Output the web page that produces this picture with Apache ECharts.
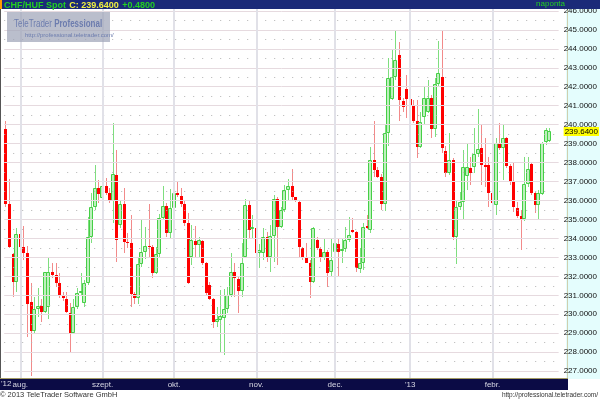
<!DOCTYPE html>
<html><head><meta charset="utf-8">
<script src="https://cdn.jsdelivr.net/npm/echarts@6/dist/echarts.min.js"></script>
<style>html,body{margin:0;padding:0;background:#fff}#c{width:600px;height:400px}</style>
</head><body><div id="c"></div>
<script>
// ---- data (daily OHLC, CHF/HUF spot) ----
const opens = [239.76,235.80,233.18,231.72,234.22,233.57,233.22,230.63,229.14,230.26,230.44,230.14,230.40,232.21,232.07,231.67,230.97,230.81,230.09,229.00,
230.40,231.14,230.58,231.63,234.10,235.68,236.64,236.12,236.78,236.42,235.99,237.35,234.71,235.82,233.83,233.74,231.07,230.84,232.64,233.30,
233.62,233.57,232.20,233.18,235.06,235.73,234.27,235.59,236.42,236.24,235.82,234.80,233.00,233.88,233.66,233.88,232.69,231.55,230.79,229.61,
229.70,229.79,230.26,231.02,232.25,231.86,231.25,233.04,235.77,234.53,234.53,233.22,233.22,234.10,233.04,234.13,236.06,234.62,235.50,236.56,
236.77,236.17,235.94,233.48,233.00,232.69,231.72,233.92,233.43,232.95,233.30,232.25,233.30,233.71,233.39,233.43,233.92,234.45,234.36,232.37,
232.69,234.66,234.45,238.14,237.61,237.26,235.82,239.55,241.34,242.53,243.68,241.27,241.87,241.34,241.04,240.20,238.84,240.42,240.69,241.39,
239.76,242.15,242.53,238.63,237.44,238.14,234.10,235.68,235.94,237.30,237.70,237.79,238.46,238.75,237.88,237.88,236.42,235.77,239.02,238.75,
239.28,237.82,237.00,235.59,235.19,235.01,236.87,237.93,236.38,235.77,236.35,239.10,239.16];
const closes = [235.82,233.57,231.72,234.22,233.57,233.22,230.53,229.14,230.26,230.44,230.14,232.21,232.25,232.07,231.67,230.97,230.84,230.14,229.00,230.40,
231.14,231.23,231.63,234.10,235.68,236.64,236.35,236.77,236.42,235.99,237.40,233.92,235.82,233.83,233.74,231.07,230.84,232.64,233.30,233.62,
233.57,232.20,233.18,235.06,235.73,234.27,235.59,236.42,236.29,235.82,234.83,231.67,233.92,233.66,233.92,232.69,231.14,230.79,229.61,229.74,
229.90,230.26,231.02,232.25,231.90,231.25,232.72,235.77,234.45,234.62,233.25,233.39,234.10,233.04,234.13,236.06,234.62,235.50,236.56,236.77,
236.20,235.99,233.53,233.04,232.72,231.72,234.53,233.48,232.95,233.30,232.16,232.86,233.74,233.30,233.43,233.92,234.18,234.36,232.42,232.69,
234.62,234.57,238.14,237.61,237.26,235.82,239.55,242.45,242.53,243.41,241.30,240.92,241.34,241.04,240.20,238.84,240.16,241.39,241.39,239.76,
242.15,242.71,238.75,237.44,238.14,234.06,235.68,235.94,237.75,237.75,237.44,238.46,238.70,237.88,237.79,236.42,235.89,239.02,238.75,239.28,
237.82,236.99,235.68,235.19,235.01,236.87,237.65,236.42,235.77,236.38,239.05,239.70,239.64];
const lows = [235.68,233.48,230.90,231.19,232.90,232.86,228.79,226.75,228.96,229.88,229.61,230.05,229.74,231.90,231.46,230.84,230.70,230.05,227.94,228.96,
230.30,231.02,230.40,231.55,233.74,235.50,235.85,235.85,236.29,235.85,234.80,232.78,234.57,233.22,233.50,230.40,230.54,230.54,232.51,232.90,
232.95,231.90,232.15,233.04,234.97,234.10,234.01,235.33,236.20,235.68,234.66,231.60,232.60,233.04,233.04,232.60,231.02,230.75,229.30,229.35,
227.94,227.85,230.05,230.93,230.93,230.05,230.93,232.95,233.95,234.01,233.18,232.42,232.86,232.78,232.25,232.78,232.60,234.57,235.41,236.03,
236.03,235.94,233.04,232.86,232.69,230.84,231.63,233.39,232.78,232.86,231.46,232.00,232.69,231.99,232.69,233.30,233.83,234.27,232.25,232.16,
232.34,234.48,234.27,237.26,237.17,235.50,235.47,238.88,241.30,242.36,240.21,240.69,240.34,240.95,240.07,238.23,238.75,239.98,240.64,239.28,
239.37,242.01,238.49,237.26,237.35,233.92,232.65,235.50,235.01,236.56,236.82,237.44,238.31,236.82,236.73,235.68,235.77,235.24,238.67,237.08,
237.70,236.82,235.41,235.06,233.39,234.94,236.73,236.29,235.36,234.97,236.29,238.93,239.11];
const highs = [240.21,237.15,233.25,234.57,234.71,234.66,233.62,231.63,230.93,231.41,230.79,232.25,233.04,232.69,232.69,232.16,231.20,231.19,230.58,230.79,
231.37,232.16,231.81,235.15,236.38,237.88,237.08,237.52,237.17,236.64,240.11,238.67,236.03,236.64,234.30,235.24,231.20,232.95,234.97,234.62,
235.82,233.66,233.57,235.27,236.77,235.85,236.59,236.56,237.00,236.64,236.03,235.33,234.71,234.66,234.10,233.92,232.78,231.72,230.84,230.37,
231.28,231.32,231.46,233.22,232.69,231.99,233.74,236.06,236.03,235.24,234.62,233.71,234.53,234.36,234.71,236.29,236.17,235.68,236.82,237.12,
237.65,236.20,236.03,233.57,233.74,232.86,234.62,234.10,233.57,233.95,233.39,233.95,233.83,234.01,233.95,234.62,235.15,235.06,234.39,233.48,
234.80,235.24,238.84,240.21,237.79,237.40,239.98,243.50,243.98,244.96,244.38,241.39,242.62,243.10,241.30,241.30,240.69,241.97,242.36,241.57,
242.45,244.43,244.96,238.88,239.55,238.23,236.03,236.47,238.67,239.02,238.31,239.81,240.81,239.98,239.28,238.31,236.77,239.28,240.07,239.98,
239.37,237.93,237.96,235.94,235.50,238.31,238.31,238.05,236.47,236.56,239.11,239.81,239.81];

// tick labels
const yTicks = [227,228,229,230,231,232,233,234,235,236,237,238,239,240,241,242,243,244,245,246];
const monthLabels = {'2012-08':'aug.','2012-09':'szept.','2012-10':'okt.','2012-11':'nov.','2012-12':'dec.','2013-01':"'13",'2013-02':'febr.'};
const yearLabel = "'12";
const lastClose = 239.64;
const change = '+0.4800';
const title = 'CHF/HUF Spot';
const periodLabel = 'naponta';

// trading-day categories (weekdays from 26 Jul 2012, two empty slots at the right edge)
const categories = [];
(function(){ let t = Date.UTC(2012,6,26); while (categories.length < opens.length + 2) { const d = new Date(t); const wd = d.getUTCDay(); if (wd !== 0 && wd !== 6) categories.push(d.toISOString().slice(0,10)); t += 86400000; } })();
const monthStartIdx = [];
categories.forEach((c, i) => { if (i > 0 && c.slice(0,7) !== categories[i-1].slice(0,7) && monthLabels[c.slice(0,7)]) monthStartIdx.push(i); });
const isMonthStart = i => monthStartIdx.indexOf(i) >= 0;

const candleData = opens.map((o, i) => [i, o, closes[i], lows[i], highs[i]]);

const chart = echarts.init(document.getElementById('c'), null, {renderer: 'canvas'});
const FONT = 'Liberation Sans, Arial, sans-serif';

const gridMarks = [];
yTicks.forEach(v => gridMarks.push({yAxis: v, lineStyle: {color: '#e6dadf', width: 1, type: 'solid'}}));
yTicks.forEach(v => gridMarks.push({yAxis: v + 0.5, lineStyle: {color: '#b4b4b4', width: 1, type: [1, 8]}}));
monthStartIdx.forEach(i => gridMarks.push({xAxis: categories[i], lineStyle: {color: '#e1e1e8', width: 2, type: 'solid'}}));

chart.setOption({
  animation: false,
  backgroundColor: '#ffffff',
  grid: {left: 4.2, right: 34, top: 9, bottom: 22},
  xAxis: {
    type: 'category', data: categories, boundaryGap: true,
    axisLine: {show: false}, axisTick: {show: false}, splitLine: {show: false},
    axisLabel: {
      interval: (i) => isMonthStart(i),
      formatter: (v) => monthLabels[v.slice(0,7)] || '',
      color: '#d8d8e4', fontSize: 8, fontFamily: FONT, margin: 3
    }
  },
  yAxis: {
    type: 'value', position: 'right', min: 226.64, max: 246.1, scale: true,
    axisLine: {show: false}, axisTick: {show: false, customValues: yTicks}, splitLine: {show: false},
    axisLabel: {customValues: yTicks, formatter: v => v.toFixed(4), color: '#111', fontSize: 8, fontFamily: FONT, margin: 5, align: 'left'}
  },
  series: [
    {
      type: 'line', data: [], z: 1, silent: true,
      markLine: {silent: true, symbol: ['none','none'], animation: false, label: {show: false}, data: gridMarks}
    },
    {
      type: 'line', data: [], z: 6, silent: true,
      markLine: {silent: true, symbol: ['none','none'], animation: false,
        lineStyle: {color: 'rgba(0,0,0,0)', width: 0},
        label: {show: true, position: 'end', distance: 5, align: 'left', formatter: () => lastClose.toFixed(4), backgroundColor: '#ffff00', color: '#000', fontSize: 8, fontFamily: FONT, padding: [1, 1, 0, 1]},
        data: [{yAxis: lastClose}]}
    },
    {
      type: 'custom', z: 3, data: candleData,
      encode: {x: 0, y: [1, 2, 3, 4]},
      renderItem: function (params, api) {
        const i = api.value(0), o = api.value(1), c = api.value(2), l = api.value(3), h = api.value(4);
        const po = api.coord([i, o]), pc = api.coord([i, c]), pl = api.coord([i, l]), ph = api.coord([i, h]);
        const x = Math.round(po[0] - 0.5);
        const up = c >= o;
        const yTop = Math.round(Math.min(po[1], pc[1]));
        const yBot = Math.round(Math.max(po[1], pc[1]));
        const wick = {type: 'line', shape: {x1: x + 0.5, y1: Math.round(ph[1]), x2: x + 0.5, y2: Math.round(pl[1])},
          style: {stroke: up ? '#7ede7e' : '#f28a8a', lineWidth: 1}};
        let body;
        if (up) {
          body = {type: 'rect', shape: {x: x - 1.5, y: yTop + 0.5, width: 3, height: Math.max(1, yBot - yTop - 1)},
            style: {fill: '#bdf0bd', stroke: '#45cf45', lineWidth: 1}};
        } else {
          body = {type: 'rect', shape: {x: x - 1, y: yTop, width: 3, height: Math.max(1, yBot - yTop)},
            style: {fill: '#ff0000'}};
        }
        return {type: 'group', children: [wick, body]};
      }
    }
  ],
  graphic: [
    {type: 'rect', z: -10, shape: {x: 566, y: 9, width: 34, height: 370}, style: {fill: '#e4fdfd'}},
    {type: 'line', z: -9, shape: {x1: 567.5, y1: 9, x2: 567.5, y2: 379}, style: {stroke: '#cfcfae', lineWidth: 1}},
    {type: 'line', z: 5, shape: {x1: 0.5, y1: 9, x2: 0.5, y2: 378}, style: {stroke: '#555', lineWidth: 1}},
    {type: 'rect', z: -5, shape: {x: 0, y: 378, width: 568, height: 12}, style: {fill: '#0b0b45'}},
    {type: 'line', z: -4, shape: {x1: 0, y1: 378.5, x2: 568, y2: 378.5}, style: {stroke: '#a39a63', lineWidth: 1}},
    {type: 'text', z: 20, left: 1, top: 380, style: {text: yearLabel, fill: '#d8d8e4', font: '8px ' + FONT}},
    {type: 'rect', z: 20, shape: {x: 0, y: 0, width: 600, height: 9}, style: {fill: '#1b2a78'}},
    {type: 'rect', z: 21, shape: {x: 0, y: 0, width: 2, height: 9}, style: {fill: '#ff9a00'}},
    {type: 'text', z: 22, left: 4, top: 0, style: {
      text: '{a|' + title + '} {b|C: ' + lastClose.toFixed(4) + '} {a|' + change + '}',
      rich: {a: {fill: '#22d022', font: 'bold 9px ' + FONT}, b: {fill: '#f0f040', font: 'bold 9px ' + FONT}}}},
    {type: 'text', z: 22, right: 35, top: 0, style: {text: periodLabel, fill: '#22d022', font: '8px ' + FONT}},
    {type: 'rect', z: 8, shape: {x: 7, y: 12, width: 103, height: 30}, style: {fill: 'rgba(160,165,185,0.72)'}},
    {type: 'text', z: 9, x: 14, y: 19, scaleX: 0.8, originX: 0, originY: 0, style: {
      text: '{n|TeleTrader }{p|Professional}',
      rich: {n: {fill: '#6c7cae', font: '10px ' + FONT}, p: {fill: '#6c7cae', font: 'bold 10px ' + FONT}}}},
    {type: 'text', z: 9, left: 25, top: 32, style: {text: 'http://professional.teletrader.com/', fill: '#6c7cae', font: '6px ' + FONT}},
    {type: 'text', z: 9, left: 0, top: 391, style: {text: '\u00a9 2013 TeleTrader Software GmbH', fill: '#333', font: '7.5px ' + FONT}},
    {type: 'text', z: 9, right: 2, top: 392, style: {text: 'http://professional.teletrader.com/', fill: '#333', font: '6.5px ' + FONT}}
  ]
});
</script></body></html>
